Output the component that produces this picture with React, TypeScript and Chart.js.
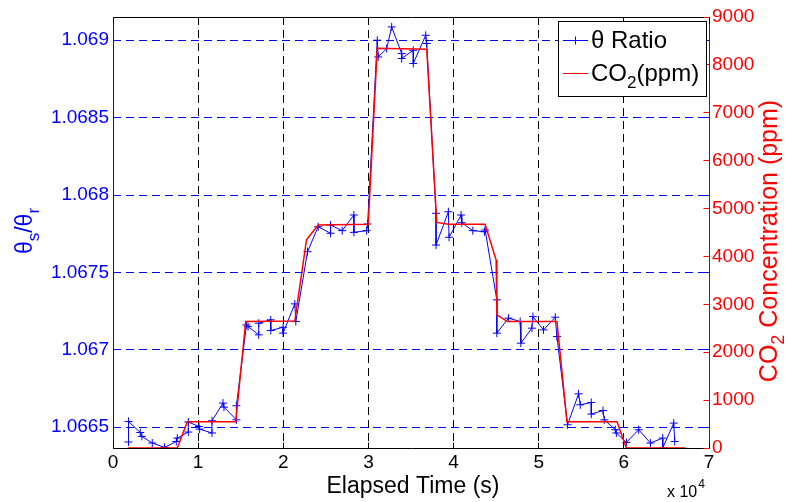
import React, { useEffect, useRef } from "react";
import { Chart, registerables } from "chart.js";

Chart.register(...registerables);

// ---- data ----
const ratioTime = [
  1824, 1824, 3200, 3388, 4612, 6059, 7435, 7553, 8847, 8847,
  10094, 10176, 11624, 11624, 12918, 13035, 14494, 14494, 15671, 15859,
  17118, 17118, 18529, 18529, 19976, 19976, 21353, 21471, 22847, 24094,
  25553, 25553, 26918, 28294, 28294, 29788, 29906, 31035, 31153, 32141,
  32729, 33906, 33906, 35271, 35271, 36729, 36847, 37941, 37941, 39388,
  39471, 40882, 40965, 42259, 43624, 43706, 45082, 45082, 46447, 47824,
  47906, 49200, 49318, 50565, 51941, 52141, 53388, 54682, 54882, 56176,
  56176, 57553, 57706, 59000, 59118, 60294, 61741, 63118, 64565, 64565,
  65859, 65976,
];
const thetaRatio = [
  1.066405, 1.066537, 1.066466, 1.066441, 1.066398, 1.06637, 1.066408, 1.06643, 1.066469, 1.066534,
  1.066505, 1.066488, 1.066463, 1.066542, 1.066656, 1.06663, 1.066548, 1.066639, 1.067161, 1.06715,
  1.067097, 1.067172, 1.067194, 1.067125, 1.067146, 1.067108, 1.067297, 1.067183, 1.067634, 1.067795,
  1.067753, 1.067806, 1.06777, 1.067871, 1.067759, 1.06777, 1.067813, 1.069, 1.068892, 1.068946,
  1.069086, 1.068914, 1.068882, 1.068935, 1.06885, 1.069032, 1.068979, 1.067882, 1.067677, 1.067892,
  1.067727, 1.067871, 1.067821, 1.06777, 1.067763, 1.067774, 1.067323, 1.067108, 1.067205, 1.067183,
  1.067043, 1.06714, 1.067215, 1.067129, 1.067211, 1.067086, 1.066516, 1.066716, 1.066645, 1.06666,
  1.066585, 1.066608, 1.066548, 1.066484, 1.066463, 1.066402, 1.066484, 1.066398, 1.06643, 1.066366,
  1.066527, 1.066408,
];
const co2Time = [
  1741, 7553, 8729, 14412, 15588, 21353, 22729, 24094, 29976, 31035, 36847,
  38024, 39388, 43706, 45000, 45082, 46329, 52141, 53318, 59200, 60294, 67235,
];
const co2Ppm = [
  0, 0, 550, 550, 2640, 2650, 4350, 4655, 4670, 8345, 8325,
  4710, 4670, 4670, 3925, 2780, 2640, 2640, 550, 550, 0, 0,
];

const xTicks = [0, 10000, 20000, 30000, 40000, 50000, 60000, 70000];
const xTickLabels = ["0", "1", "2", "3", "4", "5", "6", "7"];
const leftTicks = [1.0665, 1.067, 1.0675, 1.068, 1.0685, 1.069];
const leftTickLabels = ["1.0665", "1.067", "1.0675", "1.068", "1.0685", "1.069"];
const rightTicks = [0, 1000, 2000, 3000, 4000, 5000, 6000, 7000, 8000, 9000];
const rightTickLabels = ["0", "1000", "2000", "3000", "4000", "5000", "6000", "7000", "8000", "9000"];

const leftMin = 1.066366;
const leftMax = 1.06915;

const FONT = "'Liberation Sans', Arial, sans-serif";
const BLUE = "#0000ff";
const RED = "#ff0000";

function crisp(v: number) {
  return Math.floor(v) + 0.5;
}

const decorPlugin = {
  id: "decor",
  afterDatasetsDraw(chart: any) {
    const { ctx, chartArea, scales } = chart;
    const L = crisp(chartArea.left);
    const R = crisp(chartArea.right);
    const T = crisp(chartArea.top);
    const B = crisp(chartArea.bottom);
    const line = (x1: number, y1: number, x2: number, y2: number, c: string, w = 1) => {
      ctx.beginPath();
      ctx.strokeStyle = c;
      ctx.lineWidth = w;
      ctx.moveTo(x1, y1);
      ctx.lineTo(x2, y2);
      ctx.stroke();
    };
    ctx.save();
    ctx.setLineDash([]);
    // frame
    line(L, T, R, T, "#000");
    line(L, B, R, B, "#000");
    line(L, T, L, B, BLUE);
    line(R, T, R, B, "#800080");
    const tl = 6;
    // x ticks (inward)
    xTicks.forEach((v) => {
      const px = crisp(scales.x.getPixelForValue(v));
      line(px, B, px, B - tl, "#000");
      line(px, T, px, T + tl, "#000");
    });
    // left ticks
    leftTicks.forEach((v) => {
      const py = crisp(scales.y.getPixelForValue(v));
      line(L, py, L + tl, py, BLUE);
      line(R - tl, py, R, py, BLUE);
    });
    // right ticks
    rightTicks.forEach((v) => {
      const py = crisp(scales.y2.getPixelForValue(v));
      line(R - tl, py, R, py, RED);
    });

    // x title
    ctx.fillStyle = "#000";
    ctx.font = `23px ${FONT}`;
    ctx.textAlign = "center";
    ctx.textBaseline = "middle";
    ctx.fillText("Elapsed Time (s)", (chartArea.left + chartArea.right) / 2 + 2, 487);

    // x 10^4
    ctx.textAlign = "left";
    ctx.textBaseline = "alphabetic";
    ctx.font = `16px ${FONT}`;
    ctx.fillText("x 10", 667, 497);
    const w10 = ctx.measureText("x 10").width;
    ctx.font = `12px ${FONT}`;
    ctx.fillText("4", 667 + w10 + 1, 488);

    const drawRich = (parts: { t: string; sub?: boolean }[], cx: number, cy: number, big: number, small: number, color: string) => {
      ctx.save();
      ctx.translate(cx, cy);
      ctx.rotate(-Math.PI / 2);
      ctx.fillStyle = color;
      ctx.textBaseline = "middle";
      ctx.textAlign = "left";
      let total = 0;
      parts.forEach((p) => {
        ctx.font = `${p.sub ? small : big}px ${FONT}`;
        total += ctx.measureText(p.t).width;
      });
      let x = -total / 2;
      parts.forEach((p) => {
        ctx.font = `${p.sub ? small : big}px ${FONT}`;
        ctx.fillText(p.t, x, p.sub ? big * 0.38 : 0);
        x += ctx.measureText(p.t).width;
      });
      ctx.restore();
    };
    // left title: θs/θr
    drawRich(
      [{ t: "θ" }, { t: "s", sub: true }, { t: "/θ" }, { t: "r", sub: true }],
      26, 231, 23, 17, BLUE
    );
    // right title
    drawRich(
      [{ t: "CO" }, { t: "2", sub: true }, { t: " Concentration (ppm)" }],
      770, 241, 25, 18, RED
    );

    // legend
    const bx = 558.5, by = 21.5, bw = 148, bh = 75;
    ctx.fillStyle = "#fff";
    ctx.fillRect(bx, by, bw, bh);
    ctx.strokeStyle = "#000";
    ctx.lineWidth = 1;
    ctx.strokeRect(bx, by, bw, bh);
    const y1 = 40.5, y2 = 73.5;
    line(563, y1, 588, y1, BLUE);
    line(575.5, y1 - 4, 575.5, y1 + 4, BLUE);
    line(571.5, y1, 579.5, y1, BLUE);
    line(563, y2, 588, y2, RED);
    ctx.fillStyle = "#000";
    ctx.textAlign = "left";
    ctx.textBaseline = "middle";
    ctx.font = `24px ${FONT}`;
    ctx.fillText("θ Ratio", 591, y1 + 1);
    ctx.fillText("CO", 591, y2 + 1);
    let lx = 591 + ctx.measureText("CO").width;
    ctx.font = `17px ${FONT}`;
    ctx.fillText("2", lx, y2 + 10);
    lx += ctx.measureText("2").width;
    ctx.font = `24px ${FONT}`;
    ctx.fillText("(ppm)", lx, y2 + 1);
    ctx.restore();
  },
};

export default function App() {
  const ref = useRef<HTMLCanvasElement | null>(null);
  useEffect(() => {
    if (!ref.current) return;
    const tickFont = { family: FONT, size: 19 };
    const chart = new Chart(ref.current, {
      type: "line",
      data: {
        datasets: [
          {
            label: "CO2(ppm)",
            data: co2Time.map((t, i) => ({ x: t, y: co2Ppm[i] })),
            yAxisID: "y2",
            borderColor: RED,
            borderWidth: 1.5,
            pointRadius: 0,
            tension: 0,
            fill: false,
            order: 0,
          },
          {
            label: "θ Ratio",
            data: ratioTime.map((t, i) => ({ x: t, y: thetaRatio[i] })),
            yAxisID: "y",
            borderColor: BLUE,
            borderWidth: 1,
            pointStyle: "cross",
            pointRadius: 4,
            pointBorderWidth: 1,
            pointBorderColor: BLUE,
            pointBackgroundColor: BLUE,
            tension: 0,
            fill: false,
            order: 1,
          },
        ],
      },
      options: {
        responsive: false,
        animation: false,
        devicePixelRatio: 1,
        layout: { padding: { top: 17, left: 0, right: 0, bottom: 0 } },
        plugins: { legend: { display: false }, tooltip: { enabled: false } },
        scales: {
          x: {
            type: "linear",
            min: 0,
            max: 70000,
            afterBuildTicks: (s: any) => {
              s.ticks = xTicks.map((v) => ({ value: v }));
            },
            afterFit: (s: any) => {
              s.height = 54;
            },
            ticks: {
              callback: (_v: any, i: number) => xTickLabels[i],
              color: "#000",
              font: tickFont,
              padding: 3,
              maxRotation: 0,
              autoSkip: false,
            },
            grid: {
              color: (c: any) =>
                c.tick && (c.tick.value === 0 || c.tick.value === 70000) ? "rgba(0,0,0,0)" : "#000",
              drawTicks: false,
              lineWidth: 1,
            },
            border: { display: false, dash: [8, 5] },
          },
          y: {
            type: "linear",
            position: "left",
            min: leftMin,
            max: leftMax,
            afterBuildTicks: (s: any) => {
              s.ticks = leftTicks.map((v) => ({ value: v }));
            },
            afterFit: (s: any) => {
              s.width = 113;
            },
            ticks: {
              callback: (_v: any, i: number) => leftTickLabels[i],
              color: BLUE,
              font: tickFont,
              padding: 4,
            },
            grid: { color: BLUE, drawTicks: false, lineWidth: 1 },
            border: { display: false, dash: [8, 5] },
          },
          y2: {
            type: "linear",
            position: "right",
            min: 0,
            max: 9000,
            afterBuildTicks: (s: any) => {
              s.ticks = rightTicks.map((v) => ({ value: v }));
            },
            afterFit: (s: any) => {
              s.width = 79;
            },
            ticks: {
              callback: (_v: any, i: number) => rightTickLabels[i],
              color: RED,
              font: tickFont,
              padding: 3,
            },
            grid: { display: false, drawTicks: false },
            border: { display: false },
          },
        },
      },
      plugins: [decorPlugin],
    } as any);
    return () => chart.destroy();
  }, []);
  return (
    <div style={{ position: "fixed", left: 0, top: 0, width: 788, height: 502, background: "#fff" }}>
      <canvas ref={ref} width={788} height={502} style={{ display: "block", width: 788, height: 502 }} />
    </div>
  );
}
